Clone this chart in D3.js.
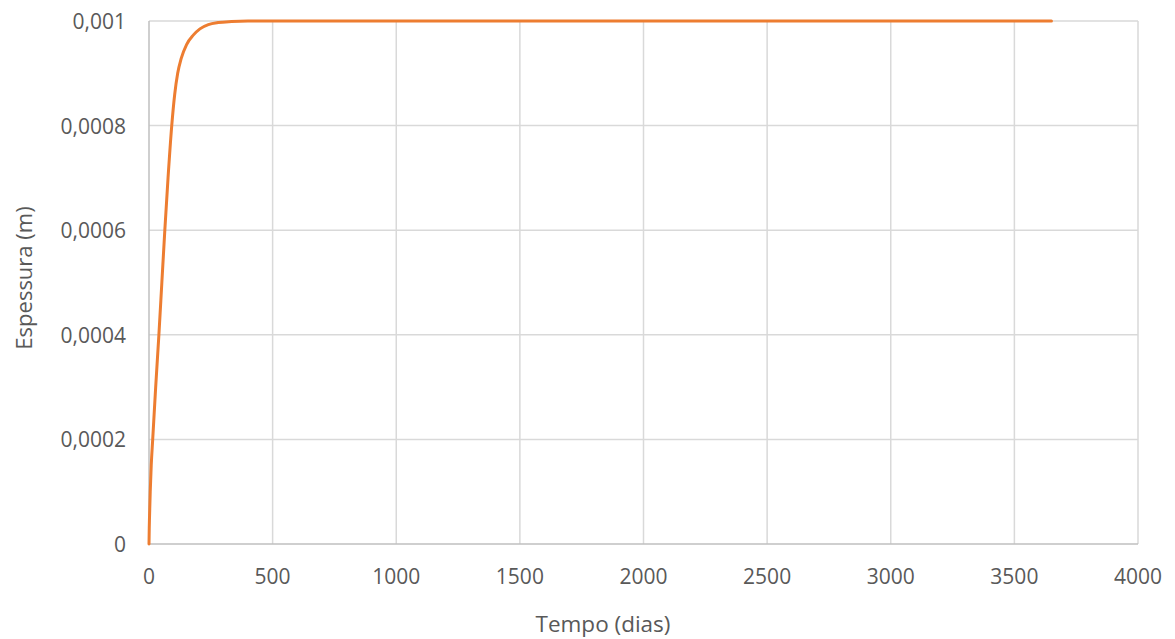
<!DOCTYPE html>
<html>
<head>
<meta charset="utf-8">
<script src="https://cdn.jsdelivr.net/npm/d3@7"></script>
<style>
  html, body { margin: 0; padding: 0; background: #fff; }
  svg { display: block; }
  text { font-family: "Open Sans", "Noto Sans", sans-serif; fill: #595959; }
</style>
</head>
<body>
<svg id="chart" width="1175" height="639"></svg>
<script>
// Thickness growth over time (days, metres)
const days = [0, 1, 2, 5, 9, 15, 27, 40, 52, 64, 77, 92, 104, 116, 130, 152, 179, 206, 240, 280, 334, 400, 3650];
const thickness = [0, 0.00003, 0.00005, 0.0001, 0.00015, 0.0002, 0.0003, 0.0004, 0.0005, 0.0006, 0.0007, 0.0008,
  0.00086, 0.0009, 0.000928, 0.000955, 0.000973, 0.000985, 0.000993, 0.000997, 0.000999, 0.001, 0.001];

const xTicks = [0, 500, 1000, 1500, 2000, 2500, 3000, 3500, 4000];
const yTicks = [0, 0.0002, 0.0004, 0.0006, 0.0008, 0.001];
const yTickLabels = ["0", "0,0002", "0,0004", "0,0006", "0,0008", "0,001"];

const xTitle = "Tempo (dias)";
const yTitle = "Espessura (m)";

const svg = d3.select("#chart");
const margin = { left: 149, right: 1138, top: 21, bottom: 544 };

const x = d3.scaleLinear().domain([0, 4000]).range([margin.left, margin.right]);
const y = d3.scaleLinear().domain([0, 0.001]).range([margin.bottom, margin.top]);

// gridlines
svg.append("g")
  .selectAll("line.h")
  .data(yTicks.slice(1))
  .join("line")
  .attr("x1", margin.left).attr("x2", margin.right)
  .attr("y1", d => y(d)).attr("y2", d => y(d))
  .attr("stroke", "#d9d9d9").attr("stroke-width", 1.5);

svg.append("g")
  .selectAll("line.v")
  .data(xTicks.slice(1))
  .join("line")
  .attr("x1", d => x(d)).attr("x2", d => x(d))
  .attr("y1", margin.top).attr("y2", margin.bottom)
  .attr("stroke", "#d9d9d9").attr("stroke-width", 1.5);

// axis lines
svg.append("line")
  .attr("x1", margin.left).attr("x2", margin.right)
  .attr("y1", y(0)).attr("y2", y(0))
  .attr("stroke", "#bfbfbf").attr("stroke-width", 1.5);
svg.append("line")
  .attr("x1", x(0)).attr("x2", x(0))
  .attr("y1", margin.top).attr("y2", margin.bottom)
  .attr("stroke", "#bfbfbf").attr("stroke-width", 1.5);

// tick labels
svg.append("g")
  .selectAll("text")
  .data(xTicks)
  .join("text")
  .attr("x", d => x(d))
  .attr("y", 576)
  .attr("text-anchor", "middle")
  .attr("dominant-baseline", "central")
  .attr("font-size", 21)
  .text(d => d);

svg.append("g")
  .selectAll("text")
  .data(yTicks)
  .join("text")
  .attr("x", 126)
  .attr("y", d => y(d))
  .attr("text-anchor", "end")
  .attr("dominant-baseline", "central")
  .attr("font-size", 21)
  .text((d, i) => yTickLabels[i]);

// axis titles
svg.append("text")
  .attr("x", 603)
  .attr("y", 623)
  .attr("text-anchor", "middle")
  .attr("dominant-baseline", "central")
  .attr("font-size", 22.5)
  .text(xTitle);

svg.append("text")
  .attr("transform", `translate(23, 278) rotate(-90)`)
  .attr("text-anchor", "middle")
  .attr("dominant-baseline", "central")
  .attr("font-size", 22)
  .text(yTitle);

// series line
const line = d3.line()
  .x((d, i) => x(days[i]))
  .y((d, i) => y(thickness[i]))
  .curve(d3.curveMonotoneX);

svg.append("path")
  .datum(days)
  .attr("d", line)
  .attr("fill", "none")
  .attr("stroke", "#ed7d31")
  .attr("stroke-width", 3)
  .attr("stroke-linejoin", "round")
  .attr("stroke-linecap", "round");
</script>
</body>
</html>
